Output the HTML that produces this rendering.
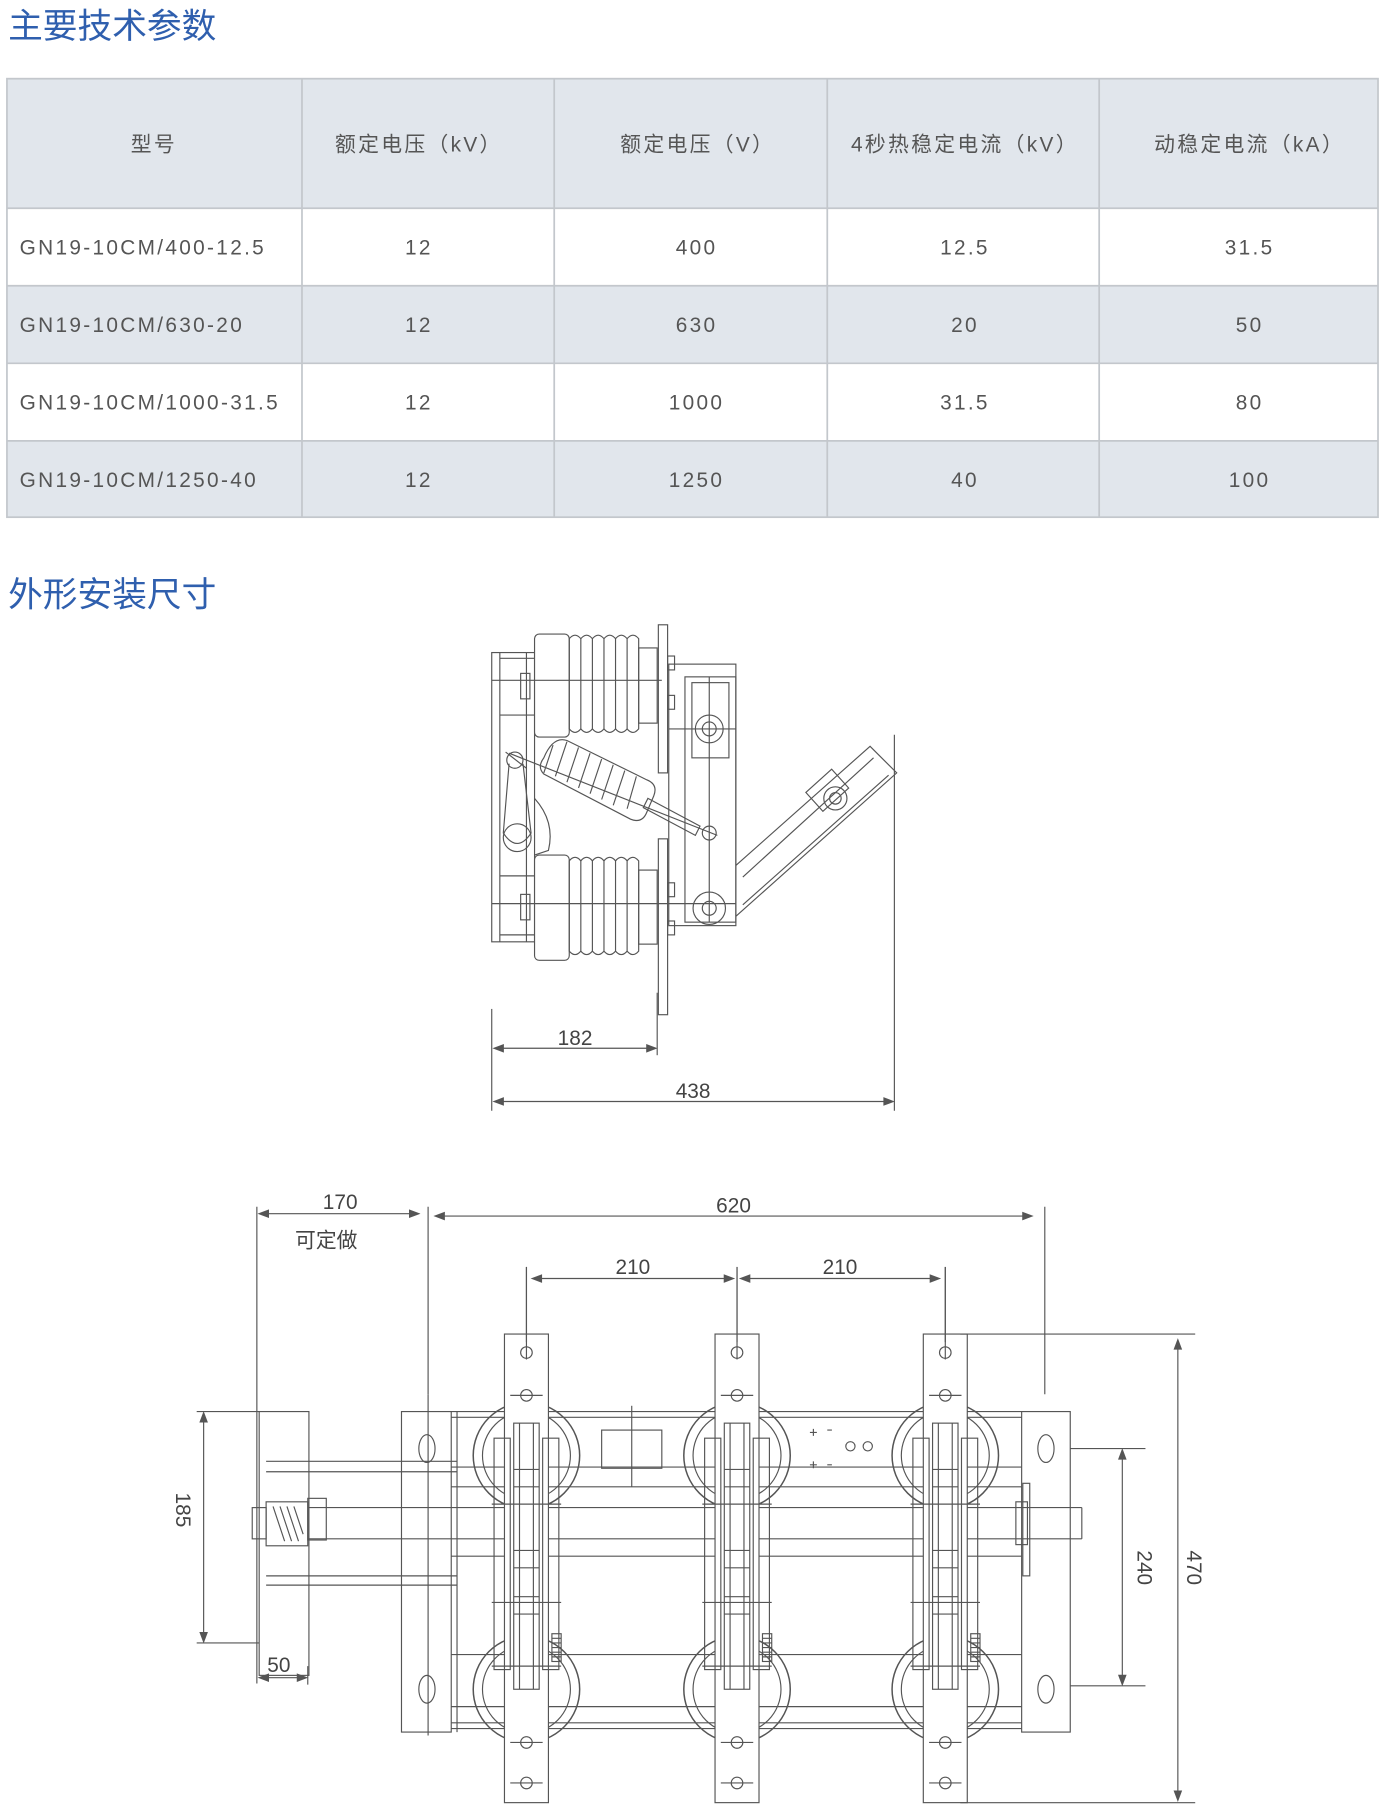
<!DOCTYPE html>
<html><head><meta charset="utf-8"><style>
html,body{margin:0;padding:0;background:#fff;}
svg{display:block}
text{font-family:"Liberation Sans","Noto Sans CJK SC",sans-serif;}
</style></head><body>
<svg width="1400" height="1820" viewBox="0 0 1210 1573" xmlns="http://www.w3.org/2000/svg">
<defs>
<g id="pole" fill="none" stroke="#555" stroke-width="1">
  <circle cx="0" cy="1258" r="46" stroke-width="1.3"/>
  <circle cx="0" cy="1258" r="38"/>
  <circle cx="0" cy="1460" r="46" stroke-width="1.3"/>
  <circle cx="0" cy="1460" r="38"/>
  <rect x="-19" y="1153" width="38" height="405" fill="#fff"/>
  <circle cx="0" cy="1169" r="5"/><circle cx="0" cy="1206" r="5"/>
  <circle cx="0" cy="1506" r="5"/><circle cx="0" cy="1541" r="5"/>
  <line x1="0" y1="1095" x2="0" y2="1175"/>
  <line x1="-14" y1="1206" x2="14" y2="1206"/>
  <line x1="-14" y1="1506" x2="14" y2="1506"/>
  <line x1="-14" y1="1541" x2="14" y2="1541"/>
  <rect x="-28" y="1243" width="14" height="200"/>
  <rect x="14" y="1243" width="14" height="200"/>
  <rect x="-11" y="1230" width="22" height="230"/>
  <line x1="-6" y1="1230" x2="-6" y2="1460"/><line x1="6" y1="1230" x2="6" y2="1460"/>
  <line x1="-11" y1="1270" x2="11" y2="1270"/><line x1="-11" y1="1285" x2="11" y2="1285"/>
  <line x1="-11" y1="1340" x2="11" y2="1340"/><line x1="-11" y1="1355" x2="11" y2="1355"/>
  <line x1="-11" y1="1380" x2="11" y2="1380"/><line x1="-11" y1="1395" x2="11" y2="1395"/>
  <line x1="-30" y1="1300" x2="30" y2="1300"/><line x1="-30" y1="1385" x2="30" y2="1385"/>
  <line x1="-30" y1="1440" x2="30" y2="1440"/>
  <rect x="22" y="1412" width="8" height="24"/>
  <path d="M22 1416h8M22 1420h8M22 1424h8M22 1428h8M22 1432h8"/>
</g>
</defs>

<text x="7" y="33" font-size="30" fill="#2f5fae">主要技术参数</text>

<rect x="6" y="68" width="1185" height="112" fill="#e1e6ec"/>
<rect x="6" y="247" width="1185" height="67" fill="#e1e6ec"/>
<rect x="6" y="381" width="1185" height="66" fill="#e1e6ec"/>
<g stroke="#c3c7cc" stroke-width="1.5" fill="none">
  <rect x="6" y="68" width="1185" height="379"/>
  <line x1="6" y1="180" x2="1191" y2="180"/>
  <line x1="6" y1="247" x2="1191" y2="247"/>
  <line x1="6" y1="314" x2="1191" y2="314"/>
  <line x1="6" y1="381" x2="1191" y2="381"/>
  <line x1="261" y1="68" x2="261" y2="447"/>
  <line x1="479" y1="68" x2="479" y2="447"/>
  <line x1="715" y1="68" x2="715" y2="447"/>
  <line x1="950" y1="68" x2="950" y2="447"/>
</g>
<g font-size="18" fill="#555" text-anchor="middle" letter-spacing="2">
  <text x="133" y="131">型号</text>
  <text x="362" y="131">额定电压（kV）</text>
  <text x="603" y="131">额定电压（V）</text>
  <text x="834" y="131">4秒热稳定电流（kV）</text>
  <text x="1080" y="131">动稳定电流（kA）</text>
  <g text-anchor="start">
    <text x="17" y="220">GN19-10CM/400-12.5</text>
    <text x="17" y="287">GN19-10CM/630-20</text>
    <text x="17" y="354">GN19-10CM/1000-31.5</text>
    <text x="17" y="421">GN19-10CM/1250-40</text>
  </g>
  <text x="362" y="220">12</text><text x="602" y="220">400</text><text x="834" y="220">12.5</text><text x="1080" y="220">31.5</text>
  <text x="362" y="287">12</text><text x="602" y="287">630</text><text x="834" y="287">20</text><text x="1080" y="287">50</text>
  <text x="362" y="354">12</text><text x="602" y="354">1000</text><text x="834" y="354">31.5</text><text x="1080" y="354">80</text>
  <text x="362" y="421">12</text><text x="602" y="421">1250</text><text x="834" y="421">40</text><text x="1080" y="421">100</text>
</g>

<text x="7" y="524" font-size="30" fill="#2f5fae">外形安装尺寸</text>

<g fill="none" stroke="#555" stroke-width="1">
  <rect x="425" y="564" width="37" height="250"/>
  <line x1="432" y1="564" x2="432" y2="814"/>
  <line x1="455" y1="564" x2="455" y2="814"/>
  <line x1="432" y1="569" x2="462" y2="569"/><line x1="432" y1="618" x2="462" y2="618"/>
  <line x1="432" y1="757" x2="462" y2="757"/><line x1="432" y1="808" x2="462" y2="808"/>
  <rect x="450" y="582" width="8" height="22"/><rect x="450" y="773" width="8" height="22"/>
  <rect x="462" y="548" width="30" height="89" rx="4" fill="#fff"/>
  <path d="M492 552 q5-6 10 0 q5-6 10 0 q5-6 10 0 q5-6 10 0 q5-6 10 0 q5-6 10 0 L552 630 q-5 6-10 0 q-5 6-10 0 q-5 6-10 0 q-5 6-10 0 q-5 6-10 0 q-5 6-10 0 Z"/>
  <line x1="502" y1="552" x2="502" y2="630"/><line x1="512" y1="552" x2="512" y2="630"/><line x1="522" y1="552" x2="522" y2="630"/><line x1="532" y1="552" x2="532" y2="630"/><line x1="542" y1="552" x2="542" y2="630"/>
  <rect x="552" y="560" width="16" height="65"/>
  <rect x="569" y="540" width="8" height="128"/>
  <rect x="577" y="567" width="6" height="12"/><rect x="577" y="601" width="6" height="12"/>
  <line x1="425" y1="588" x2="572" y2="588"/>
  <rect x="462" y="739" width="30" height="91" rx="4" fill="#fff"/>
  <path d="M492 744 q5-6 10 0 q5-6 10 0 q5-6 10 0 q5-6 10 0 q5-6 10 0 q5-6 10 0 L552 822 q-5 6-10 0 q-5 6-10 0 q-5 6-10 0 q-5 6-10 0 q-5 6-10 0 q-5 6-10 0 Z"/>
  <line x1="502" y1="744" x2="502" y2="822"/><line x1="512" y1="744" x2="512" y2="822"/><line x1="522" y1="744" x2="522" y2="822"/><line x1="532" y1="744" x2="532" y2="822"/><line x1="542" y1="744" x2="542" y2="822"/>
  <rect x="552" y="752" width="16" height="64"/>
  <rect x="569" y="725" width="8" height="152"/>
  <rect x="577" y="763" width="6" height="12"/><rect x="577" y="796" width="6" height="12"/>
  <line x1="425" y1="781" x2="636" y2="781"/>
  <rect x="578" y="574" width="58" height="226"/>
  <rect x="592" y="585" width="44" height="212"/>
  <rect x="598" y="590" width="32" height="65"/>
  <line x1="613" y1="585" x2="613" y2="797"/>
  <circle cx="613" cy="630" r="12"/><circle cx="613" cy="630" r="6"/>
  <circle cx="613" cy="785" r="14"/><circle cx="613" cy="785" r="6"/>
  <circle cx="613" cy="720" r="6"/>
  <line x1="578" y1="630" x2="636" y2="630"/>
  <path d="M470 655 q-6 8 0 14 L545 708 q10 4 14-6 l6-14 q4-10-6-14 L490 640 q-12-4-20 15 Z"/>
  <path d="M478 644 l-8 24 M490 641 l-10 30 M500 646 l-10 30 M510 651 l-10 30 M520 656 l-10 30 M530 661 l-10 30 M540 666 l-10 30 M550 671 l-8 28"/>
  <line x1="440" y1="651" x2="620" y2="722"/>
  <path d="M560 690 l45 24 l-4 8 l-45-24 Z"/>
  <circle cx="445" cy="657" r="7"/><line x1="437" y1="650" x2="455" y2="664"/>
  <path d="M440 660 L435 720 Q447 738 459 720 L452 660"/>
  <circle cx="447" cy="724" r="12"/>
  <path d="M462 690 q18 20 12 45 l-12 4"/>
  <path d="M636 748 L752 645 L775 668 L636 792"/>
  <path d="M642 758 L755 655 M642 782 L768 670"/>
  <rect x="700" y="672" width="30" height="22" transform="rotate(-42 715 683)"/>
  <circle cx="722" cy="690" r="10"/><circle cx="722" cy="690" r="5"/>
</g>
<g stroke="#555" stroke-width="1" fill="#555">
  <line x1="425" y1="872" x2="425" y2="960"/>
  <line x1="568" y1="858" x2="568" y2="912"/>
  <line x1="773" y1="635" x2="773" y2="960"/>
  <line x1="428" y1="906" x2="566" y2="906"/>
  <path d="M427 906 l8-3 v6z M567 906 l-8-3 v6z"/>
  <line x1="428" y1="952" x2="771" y2="952"/>
  <path d="M427 952 l8-3 v6z M772 952 l-8-3 v6z"/>
</g>
<g font-size="18" fill="#444" text-anchor="middle">
  <text x="497" y="903">182</text>
  <text x="599" y="949">438</text>
</g>

<g fill="none" stroke="#555" stroke-width="1">
  <rect x="224" y="1220" width="43" height="228"/>
  <line x1="230" y1="1263" x2="395" y2="1263"/><line x1="230" y1="1272" x2="395" y2="1272"/>
  <line x1="230" y1="1362" x2="395" y2="1362"/><line x1="230" y1="1370" x2="395" y2="1370"/>
  <rect x="218" y="1303" width="12" height="27"/>
  <rect x="230" y="1298" width="36" height="38"/>
  <path d="M236 1302 l10 30 M242 1302 l10 30 M248 1302 l10 30 M254 1302 l8 24"/>
  <rect x="266" y="1295" width="16" height="36"/>
  <line x1="266" y1="1303" x2="935" y2="1303"/><line x1="266" y1="1330" x2="935" y2="1330"/>
  <line x1="935" y1="1303" x2="935" y2="1330"/>
  <rect x="878" y="1298" width="10" height="37"/>
  <rect x="884" y="1282" width="6" height="80"/>
  <rect x="347" y="1220" width="43" height="277"/>
  <ellipse cx="369" cy="1252" rx="7" ry="12"/><ellipse cx="369" cy="1460" rx="7" ry="12"/>
  <rect x="883" y="1220" width="42" height="277"/>
  <ellipse cx="904" cy="1252" rx="7" ry="12"/><ellipse cx="904" cy="1460" rx="7" ry="12"/>
  <line x1="390" y1="1220" x2="883" y2="1220"/><line x1="390" y1="1225" x2="883" y2="1225"/>
  <line x1="390" y1="1494" x2="883" y2="1494"/><line x1="390" y1="1489" x2="883" y2="1489"/>
  <line x1="390" y1="1268" x2="883" y2="1268"/><line x1="390" y1="1285" x2="883" y2="1285"/>
  <line x1="390" y1="1345" x2="883" y2="1345"/>
  <line x1="390" y1="1430" x2="883" y2="1430"/><line x1="390" y1="1475" x2="883" y2="1475"/>
  <line x1="395" y1="1220" x2="395" y2="1497"/>
  <line x1="370" y1="1205" x2="370" y2="1500"/>
  <rect x="520" y="1236" width="52" height="33"/>
  <line x1="546" y1="1215" x2="546" y2="1285"/>
  <circle cx="735" cy="1250" r="4"/><circle cx="750" cy="1250" r="4"/>
  <path d="M700 1238h6M703 1235v6M700 1266h6M703 1263v6M715 1236h4M715 1266h4"/>
</g>
<use href="#pole" x="455"/>
<use href="#pole" x="637"/>
<use href="#pole" x="817"/>

<g stroke="#555" stroke-width="1" fill="#555">
  <line x1="222" y1="1043" x2="222" y2="1455"/>
  <line x1="370" y1="1043" x2="370" y2="1205"/>
  <line x1="903" y1="1043" x2="903" y2="1205"/>
  <line x1="225" y1="1049" x2="360" y2="1049"/>
  <path d="M224 1049 l8-3 v6z M362 1049 l-8-3 v6z"/>
  <line x1="378" y1="1051" x2="890" y2="1051"/>
  <path d="M376 1051 l8-3 v6z M892 1051 l-8-3 v6z"/>
  <line x1="455" y1="1095" x2="455" y2="1160"/>
  <line x1="637" y1="1095" x2="637" y2="1160"/>
  <line x1="817" y1="1095" x2="817" y2="1160"/>
  <line x1="462" y1="1105" x2="632" y2="1105"/>
  <path d="M460 1105 l8-3 v6z M634 1105 l-8-3 v6z"/>
  <line x1="642" y1="1105" x2="810" y2="1105"/>
  <path d="M640 1105 l8-3 v6z M812 1105 l-8-3 v6z"/>
  <line x1="170" y1="1220" x2="224" y2="1220"/><line x1="170" y1="1420" x2="224" y2="1420"/>
  <line x1="176" y1="1223" x2="176" y2="1417"/>
  <path d="M176 1221 l-3 8 h6z M176 1419 l-3-8 h6z"/>
  <line x1="266" y1="1440" x2="266" y2="1456"/>
  <line x1="225" y1="1450" x2="264" y2="1450"/>
  <path d="M224 1450 l8-3 v6z M265 1450 l-8-3 v6z"/>
  <line x1="925" y1="1252" x2="990" y2="1252"/><line x1="925" y1="1457" x2="990" y2="1457"/>
  <line x1="970" y1="1255" x2="970" y2="1454"/>
  <path d="M970 1253 l-3 8 h6z M970 1456 l-3-8 h6z"/>
  <line x1="830" y1="1153" x2="1033" y2="1153"/><line x1="830" y1="1558" x2="1033" y2="1558"/>
  <line x1="1018" y1="1160" x2="1018" y2="1555"/>
  <path d="M1018 1158 l-3 8 h6z M1018 1556 l-3-8 h6z"/>
</g>
<g font-size="18" fill="#444" text-anchor="middle">
  <text x="294" y="1045">170</text>
  <text x="282" y="1078">可定做</text>
  <text x="634" y="1048">620</text>
  <text x="547" y="1101">210</text>
  <text x="726" y="1101">210</text>
  <text x="241" y="1445">50</text>
  <text transform="translate(152 1305) rotate(90)">185</text>
  <text transform="translate(983 1355) rotate(90)">240</text>
  <text transform="translate(1026 1355) rotate(90)">470</text>
</g>
</svg>
</body></html>
